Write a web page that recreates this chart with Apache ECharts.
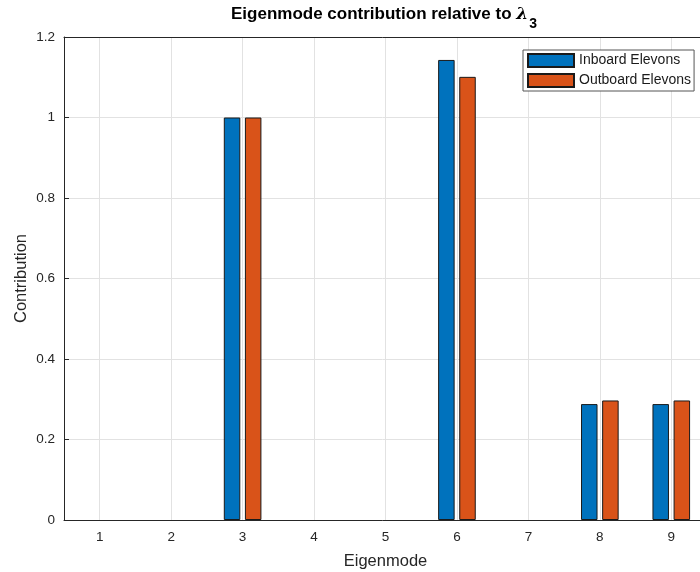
<!DOCTYPE html>
<html>
<head>
<meta charset="utf-8">
<script src="https://cdn.jsdelivr.net/npm/echarts@6/dist/echarts.min.js"></script>
<style>
  html, body { margin: 0; padding: 0; background: #ffffff; overflow: hidden; }
  #chart { width: 700px; height: 572px; }
</style>
</head>
<body>
<div id="chart"></div>
<script>
// Eigenmode indices on the x axis
const modes = ['1', '2', '3', '4', '5', '6', '7', '8', '9'];
// Contribution of each eigenmode, per control-surface group
const inboard  = [0, 0, 1.0, 0, 0, 1.143, 0, 0.288, 0.288];
const outboard = [0, 0, 1.0, 0, 0, 1.101, 0, 0.297, 0.297];
const seriesNames = ['Inboard Elevons', 'Outboard Elevons'];
// y-axis scale
const yMin = 0, yMax = 1.2, yStep = 0.2;

const FONT = '"Liberation Sans", Arial, Helvetica, sans-serif';
const INK = '#262626';
const GRID = '#e2e2e2';

// Half-step positions (0.5, 1, 1.5, ...) so vertical grid lines can sit on category centres
const halfSteps = [];
for (let i = 0; i <= modes.length * 2; i++) halfSteps.push(String(0.5 + i * 0.5));

// zero-height bars are left undrawn so the baseline stays clean
const drawn = (arr) => arr.map((v) => (v === 0 ? null : v));

const chart = echarts.init(document.getElementById('chart'), null, { renderer: 'canvas' });

chart.setOption({
  backgroundColor: '#ffffff',
  animation: false,
  textStyle: { fontFamily: FONT },
  title: {
    text: '{t|Eigenmode contribution relative to }{l|λ}{s|3}',
    left: 384,
    top: 6,
    textAlign: 'center',
    padding: 0,
    textStyle: {
      rich: {
        t: { fontFamily: FONT, fontSize: 17, fontWeight: 'bold', color: '#000', lineHeight: 20, verticalAlign: 'top' },
        l: { fontFamily: '"DejaVu Serif", serif', fontSize: 17, fontStyle: 'italic', color: '#000', lineHeight: 20, verticalAlign: 'top' },
        s: { fontFamily: FONT, fontSize: 14, fontWeight: 'bold', color: '#000', lineHeight: 20, verticalAlign: 'top', padding: [11, 0, 0, 1] }
      }
    }
  },
  grid: { left: 64, top: 37, width: 643, height: 483, containLabel: false, outerBoundsMode: 'none' },
  legend: {
    orient: 'vertical',
    left: 523,
    top: 50,
    itemWidth: 46,
    itemHeight: 13,
    itemGap: 5,
    padding: [3, 3, 3, 4],
    borderColor: '#555',
    borderWidth: 1,
    borderRadius: 0,
    backgroundColor: '#ffffff',
    icon: 'rect',
    textStyle: { fontFamily: FONT, fontSize: 14, color: '#1a1a1a' },
    data: seriesNames
  },
  xAxis: [
    {
      type: 'category',
      data: modes,
      position: 'bottom',
      boundaryGap: true,
      name: 'Eigenmode',
      nameLocation: 'middle',
      nameGap: 33,
      nameMoveOverlap: false,
      nameTextStyle: { fontFamily: FONT, fontSize: 16.5, color: INK },
      axisLine: { lineStyle: { color: INK, width: 1 } },
      axisTick: { inside: true, alignWithLabel: true, length: 5, lineStyle: { color: INK } },
      axisLabel: { fontFamily: FONT, fontSize: 13.5, color: INK, margin: 10 },
      splitLine: { show: false }
    },
    {
      // grid-line carrier: integer positions fall on the odd half-steps
      type: 'category',
      data: halfSteps,
      position: 'bottom',
      boundaryGap: false,
      axisLine: { show: false },
      axisTick: { show: false },
      axisLabel: { show: false },
      splitLine: { show: true, interval: (i) => i % 2 === 1, lineStyle: { color: GRID, width: 1 } }
    },
    {
      // box edge along the top with matching ticks
      type: 'category',
      data: modes,
      position: 'top',
      boundaryGap: true,
      axisLine: { lineStyle: { color: INK, width: 1 } },
      axisTick: { inside: true, alignWithLabel: true, length: 5, lineStyle: { color: INK } },
      axisLabel: { show: false },
      splitLine: { show: false }
    }
  ],
  yAxis: [
    {
      type: 'value',
      min: yMin,
      max: yMax,
      interval: yStep,
      name: 'Contribution',
      nameLocation: 'middle',
      nameGap: 34,
      nameMoveOverlap: false,
      nameTextStyle: { fontFamily: FONT, fontSize: 16.5, color: INK },
      axisLine: { show: true, lineStyle: { color: INK, width: 1 } },
      axisTick: { show: true, inside: true, length: 5, lineStyle: { color: INK } },
      axisLabel: { fontFamily: FONT, fontSize: 13.5, color: INK, margin: 9 },
      splitLine: { show: true, lineStyle: { color: GRID, width: 1 } }
    }
  ],
  series: [
    {
      name: seriesNames[0],
      type: 'bar',
      xAxisIndex: 0,
      yAxisIndex: 0,
      data: drawn(inboard),
      barWidth: 16.5,
      barGap: '28%',
      itemStyle: { color: '#0072BD', borderColor: '#1a1a1a', borderWidth: 1 }
    },
    {
      name: seriesNames[1],
      type: 'bar',
      xAxisIndex: 0,
      yAxisIndex: 0,
      data: drawn(outboard),
      barWidth: 16.5,
      barGap: '28%',
      itemStyle: { color: '#D95319', borderColor: '#1a1a1a', borderWidth: 1 }
    }
  ]
});
</script>
</body>
</html>
